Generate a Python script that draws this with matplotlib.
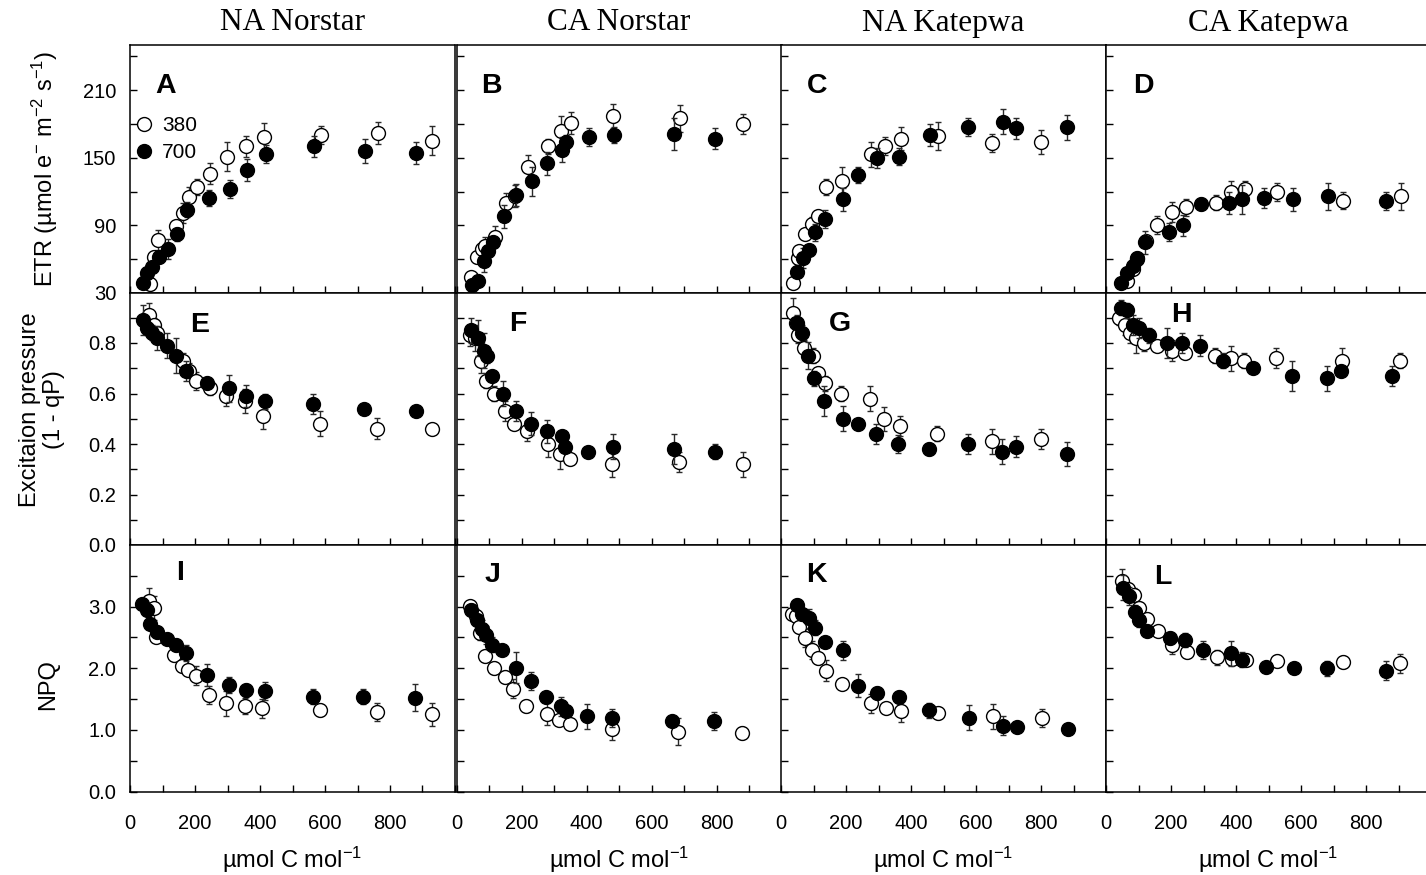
import matplotlib
matplotlib.use("Agg")
import matplotlib.pyplot as plt
from matplotlib.ticker import FixedLocator, FuncFormatter
from matplotlib.lines import Line2D

plt.rcParams['font.family'] = ['Liberation Sans', 'DejaVu Sans']
plt.rcParams['mathtext.fontset'] = 'custom'
plt.rcParams['mathtext.rm'] = 'Liberation Sans'
plt.rcParams['mathtext.default'] = 'regular'

# ---------------- data: x = µmol C mol-1, y = mean, e = error ----------------
# ETR
a_x380 = [62, 74, 87, 140, 162, 182, 207, 247, 299, 357, 412, 587, 762, 930]
a_y380 = [38, 62, 77, 89, 101, 115, 124, 136, 151, 160, 168, 170, 172, 165]
a_e380 = [3, 5, 9, 4, 9, 9, 7, 9.5, 13, 9, 13, 8, 10, 13]
a_x700 = [41, 52, 67, 88, 118, 144, 174, 242, 308, 359, 417, 565, 722, 881]
a_y700 = [39, 48, 53, 62, 69, 82, 104, 114, 122, 139, 153, 160, 156, 154]
a_e700 = [3, 3, 4, 5, 9, 6, 7, 7, 8, 10, 8, 9.5, 11, 10]

b_x380 = [45, 62, 78, 89, 117, 151, 180, 219, 282, 320, 351, 481, 688, 882]
b_y380 = [44, 62, 69, 72, 80, 110, 116, 142, 160, 174, 181, 187, 185, 180]
b_e380 = [4, 5, 6, 8, 9.5, 9, 10, 10, 7, 13, 10, 11, 12, 9]
b_x700 = [48, 66, 84, 96, 112, 145, 184, 233, 278, 324, 338, 407, 484, 669, 796]
b_y700 = [37, 41, 58, 67, 75, 98, 117, 129, 145, 157, 164, 168, 170, 171, 167]
b_e700 = [3, 3, 9, 4, 5, 10, 10, 13, 10, 11, 6, 8, 7, 14, 9.5]

c_x380 = [38, 51, 56, 74, 94, 115, 138, 187, 276, 320, 369, 484, 650, 800]
c_y380 = [39, 61, 67, 82, 91, 98, 124, 129, 153, 160, 167, 169, 163, 164]
c_e380 = [4, 6, 5, 4, 6, 4, 7.5, 13, 11, 8, 10, 12.5, 8, 10.5]
c_x700 = [49, 67, 87, 105, 135, 192, 238, 294, 363, 458, 576, 683, 722, 881]
c_y700 = [49, 61, 68, 84, 96, 113, 135, 150, 151, 170, 177, 182, 176, 177]
c_e700 = [5, 9, 4, 7.5, 8, 10, 7, 9, 7.5, 10, 8, 11, 9.5, 11]

d_x380 = [64, 82, 96, 122, 158, 202, 246, 338, 385, 428, 525, 730, 908]
d_y380 = [41, 51, 60, 76, 90, 102, 106, 110, 120, 122, 120, 112, 116]
d_e380 = [3, 4, 4, 5, 8, 9, 7.5, 6.5, 9, 7.5, 8, 7.5, 12]
d_x700 = [45, 66, 82, 94, 120, 195, 236, 292, 379, 418, 487, 576, 682, 861]
d_y700 = [39, 48, 54, 61, 75, 84, 90, 109, 110, 113, 114, 113, 116, 112]
d_e700 = [4, 3, 4, 5, 10, 8, 9.5, 5, 10, 12.5, 9, 10, 12, 8]

# Excitation pressure (1 - qP)
e_x380 = [58, 74, 84, 162, 182, 203, 246, 295, 355, 410, 585, 759, 929]
e_y380 = [0.91, 0.87, 0.84, 0.73, 0.69, 0.65, 0.62, 0.59, 0.57, 0.51, 0.48, 0.46, 0.46]
e_e380 = [0.05, 0.03, 0.03, 0.03, 0.03, 0.037, 0.025, 0.04, 0.046, 0.049, 0.05, 0.042, 0.01]
e_x700 = [39, 51, 67, 84, 113, 142, 172, 238, 305, 356, 416, 564, 721, 879]
e_y700 = [0.89, 0.86, 0.84, 0.82, 0.79, 0.75, 0.69, 0.64, 0.62, 0.59, 0.57, 0.56, 0.54, 0.53]
e_e700 = [0.06, 0.03, 0.03, 0.046, 0.049, 0.07, 0.04, 0.02, 0.053, 0.044, 0.03, 0.04, 0.02, 0.02]

f_x380 = [42, 58, 76, 91, 114, 148, 176, 218, 281, 317, 350, 479, 686, 881]
f_y380 = [0.83, 0.82, 0.73, 0.65, 0.60, 0.53, 0.48, 0.45, 0.40, 0.36, 0.34, 0.32, 0.33, 0.32]
f_e380 = [0.04, 0.05, 0.05, 0.03, 0.03, 0.04, 0.02, 0.04, 0.05, 0.06, 0.02, 0.05, 0.04, 0.05]
f_x700 = [45, 66, 84, 94, 110, 143, 182, 230, 278, 324, 335, 404, 483, 668, 796]
f_y700 = [0.85, 0.82, 0.77, 0.75, 0.67, 0.60, 0.53, 0.48, 0.45, 0.43, 0.39, 0.37, 0.39, 0.38, 0.37]
f_e700 = [0.05, 0.07, 0.07, 0.03, 0.02, 0.05, 0.04, 0.045, 0.045, 0.02, 0.02, 0.02, 0.05, 0.06, 0.03]

g_x380 = [38, 45, 53, 72, 97, 115, 135, 185, 274, 318, 366, 481, 648, 799]
g_y380 = [0.92, 0.88, 0.83, 0.78, 0.75, 0.68, 0.64, 0.60, 0.58, 0.50, 0.47, 0.44, 0.41, 0.42]
g_e380 = [0.057, 0.03, 0.03, 0.03, 0.03, 0.02, 0.03, 0.03, 0.05, 0.047, 0.04, 0.03, 0.049, 0.038]
g_x700 = [48, 64, 84, 103, 133, 192, 236, 291, 361, 455, 575, 681, 723, 880]
g_y700 = [0.88, 0.84, 0.75, 0.66, 0.57, 0.50, 0.48, 0.44, 0.40, 0.38, 0.40, 0.37, 0.39, 0.36]
g_e700 = [0.03, 0.03, 0.053, 0.03, 0.06, 0.05, 0.02, 0.04, 0.035, 0.025, 0.04, 0.049, 0.04, 0.046]

h_x380 = [40, 58, 74, 92, 118, 158, 202, 243, 335, 384, 426, 522, 727, 905]
h_y380 = [0.90, 0.87, 0.84, 0.82, 0.80, 0.79, 0.77, 0.76, 0.75, 0.74, 0.73, 0.74, 0.73, 0.73]
h_e380 = [0.03, 0.04, 0.04, 0.06, 0.03, 0.02, 0.04, 0.02, 0.03, 0.05, 0.03, 0.04, 0.05, 0.03]
h_x700 = [45, 64, 84, 102, 132, 189, 233, 289, 359, 453, 573, 679, 722, 879]
h_y700 = [0.94, 0.93, 0.87, 0.86, 0.83, 0.80, 0.80, 0.79, 0.73, 0.70, 0.67, 0.66, 0.69, 0.67]
h_e700 = [0.03, 0.03, 0.04, 0.04, 0.03, 0.06, 0.04, 0.04, 0.03, 0.02, 0.06, 0.05, 0.02, 0.04]

# NPQ
i_x380 = [58, 74, 80, 135, 159, 178, 202, 244, 295, 354, 405, 585, 759, 930]
i_y380 = [3.09, 2.98, 2.50, 2.22, 2.04, 1.97, 1.88, 1.57, 1.43, 1.38, 1.35, 1.32, 1.29, 1.25]
i_e380 = [0.22, 0.2, 0.08, 0.1, 0.1, 0.08, 0.15, 0.15, 0.2, 0.13, 0.15, 0.1, 0.15, 0.18]
i_x700 = [36, 51, 62, 84, 113, 141, 172, 238, 305, 357, 416, 564, 718, 878]
i_y700 = [3.04, 2.95, 2.72, 2.59, 2.48, 2.38, 2.24, 1.89, 1.73, 1.64, 1.63, 1.54, 1.54, 1.52]
i_e700 = [0.05, 0.05, 0.05, 0.1, 0.06, 0.1, 0.13, 0.18, 0.13, 0.1, 0.15, 0.12, 0.12, 0.22]

j_x380 = [42, 61, 73, 89, 115, 148, 173, 214, 278, 314, 348, 478, 683, 878]
j_y380 = [3.01, 2.84, 2.58, 2.20, 2.00, 1.86, 1.67, 1.39, 1.26, 1.16, 1.10, 1.02, 0.97, 0.95]
j_e380 = [0.08, 0.12, 0.12, 0.1, 0.1, 0.1, 0.15, 0.1, 0.18, 0.08, 0.08, 0.18, 0.22, 0.1]
j_x700 = [45, 63, 78, 91, 110, 141, 182, 230, 274, 322, 337, 401, 479, 663, 791]
j_y700 = [2.95, 2.78, 2.63, 2.54, 2.38, 2.29, 2.01, 1.79, 1.54, 1.38, 1.30, 1.22, 1.19, 1.15, 1.14]
j_e700 = [0.1, 0.1, 0.15, 0.15, 0.12, 0.06, 0.25, 0.15, 0.08, 0.15, 0.06, 0.2, 0.15, 0.08, 0.15]

k_x380 = [35, 45, 56, 74, 96, 115, 137, 187, 276, 322, 369, 484, 653, 802]
k_y380 = [2.88, 2.85, 2.67, 2.49, 2.30, 2.17, 1.96, 1.75, 1.43, 1.36, 1.30, 1.27, 1.22, 1.19]
k_e380 = [0.05, 0.05, 0.1, 0.15, 0.15, 0.1, 0.17, 0.07, 0.15, 0.05, 0.18, 0.1, 0.2, 0.15]
k_x700 = [48, 66, 87, 105, 135, 192, 238, 295, 363, 456, 579, 684, 727, 884]
k_y700 = [3.03, 2.88, 2.81, 2.66, 2.43, 2.29, 1.72, 1.60, 1.53, 1.32, 1.20, 1.07, 1.04, 1.02]
k_e700 = [0.1, 0.1, 0.15, 0.12, 0.08, 0.15, 0.18, 0.1, 0.1, 0.12, 0.2, 0.15, 0.08, 0.08]

l_x380 = [48, 69, 87, 100, 125, 161, 204, 248, 341, 387, 430, 525, 730, 905]
l_y380 = [3.41, 3.28, 3.19, 2.98, 2.80, 2.61, 2.38, 2.26, 2.18, 2.15, 2.13, 2.12, 2.10, 2.08]
l_e380 = [0.2, 0.1, 0.12, 0.1, 0.1, 0.08, 0.15, 0.1, 0.12, 0.1, 0.1, 0.1, 0.1, 0.15]
l_x700 = [51, 72, 89, 102, 127, 197, 243, 297, 384, 419, 491, 577, 681, 861]
l_y700 = [3.31, 3.17, 2.92, 2.79, 2.60, 2.49, 2.46, 2.30, 2.24, 2.14, 2.02, 2.00, 2.00, 1.96]
l_e700 = [0.2, 0.15, 0.1, 0.12, 0.05, 0.1, 0.12, 0.15, 0.2, 0.12, 0.08, 0.08, 0.12, 0.15]

column_titles = ["NA Norstar", "CA Norstar", "NA Katepwa", "CA Katepwa"]
panel_letters = ["A", "B", "C", "D", "E", "F", "G", "H", "I", "J", "K", "L"]
series_labels = ["380", "700"]
x_label = "µmol C mol$^{-1}$"
y_labels = ["ETR (µmol e$^{-}$ m$^{-2}$ s$^{-1}$)",
            "Excitaion pressure\n(1 - qP)",
            "NPQ"]

panels = [
    [(a_x380, a_y380, a_e380, a_x700, a_y700, a_e700),
     (b_x380, b_y380, b_e380, b_x700, b_y700, b_e700),
     (c_x380, c_y380, c_e380, c_x700, c_y700, c_e700),
     (d_x380, d_y380, d_e380, d_x700, d_y700, d_e700)],
    [(e_x380, e_y380, e_e380, e_x700, e_y700, e_e700),
     (f_x380, f_y380, f_e380, f_x700, f_y700, f_e700),
     (g_x380, g_y380, g_e380, g_x700, g_y700, g_e700),
     (h_x380, h_y380, h_e380, h_x700, h_y700, h_e700)],
    [(i_x380, i_y380, i_e380, i_x700, i_y700, i_e700),
     (j_x380, j_y380, j_e380, j_x700, j_y700, j_e700),
     (k_x380, k_y380, k_e380, k_x700, k_y700, k_e700),
     (l_x380, l_y380, l_e380, l_x700, l_y700, l_e700)],
]

# ---------------- layout ----------------
W, H = 1426, 875
fig = plt.figure(figsize=(W / 100, H / 100), dpi=100)

col_left_px = [130, 456.5, 781, 1106]
col_w_px = 325
row_px = [(45, 293), (292.5, 545), (545, 791.5)]  # (top, bottom) in pixels

ylims = [(30, 250), (0, 1.0), (0, 4.0)]
y_major = [[30, 90, 150, 210], [0, 0.2, 0.4, 0.6, 0.8], [0, 1, 2, 3]]
y_minor = [[60, 120, 180, 240], [0.1, 0.3, 0.5, 0.7, 0.9], [0.5, 1.5, 2.5, 3.5]]
y_fmt = [lambda v, p: f"{v:.0f}", lambda v, p: f"{v:.1f}", lambda v, p: f"{v:.1f}"]

letter_pos = [[(0.11, 0.835), (0.108, 0.835), (0.11, 0.835), (0.114, 0.835)],
              [(0.215, 0.87), (0.19, 0.876), (0.18, 0.876), (0.233, 0.91)],
              [(0.154, 0.887), (0.11, 0.88), (0.11, 0.88), (0.175, 0.87)]]
ylabel_pos = [(45, 0.5), (42, 0.535), (48, 0.432)]

err_color = "#2a2a2a"
ms = 10

for r in range(3):
    top, bot = row_px[r]
    for c in range(4):
        left = col_left_px[c]
        ax = fig.add_axes([left / W, 1 - bot / H, col_w_px / W, (bot - top) / H])
        x3, y3, e3, x7, y7, e7 = panels[r][c]
        ax.errorbar(x3, y3, yerr=e3, fmt='o', ms=ms, mfc='white', mec='black',
                    mew=1.0, ecolor=err_color, elinewidth=1.0, capsize=2.2,
                    capthick=1.0, zorder=3)
        ax.errorbar(x7, y7, yerr=e7, fmt='o', ms=ms, mfc='black', mec='black',
                    mew=1.0, ecolor=err_color, elinewidth=1.0, capsize=2.2,
                    capthick=1.0, zorder=4)

        ax.set_xlim(0, 1000)
        ax.set_ylim(*ylims[r])
        ax.xaxis.set_major_locator(FixedLocator([0, 200, 400, 600, 800, 1000]))
        ax.xaxis.set_minor_locator(FixedLocator([100, 300, 500, 700, 900]))
        ax.yaxis.set_major_locator(FixedLocator(y_major[r]))
        ax.yaxis.set_minor_locator(FixedLocator(y_minor[r]))
        ax.tick_params(which='both', direction='in', length=5, width=1.0,
                       top=False, right=False, labelsize=14.5)
        ax.tick_params(axis='x', pad=16)
        ax.tick_params(axis='y', pad=10)
        for sp in ax.spines.values():
            sp.set_linewidth(1.1)

        if r == 2:
            ax.xaxis.set_major_formatter(
                FuncFormatter(lambda v, p: "" if v >= 1000 else f"{v:.0f}"))
            ax.set_xlabel(x_label, fontsize=17)
            ax.xaxis.set_label_coords(0.5, -0.278)
            ax.xaxis.label.set_va('center')
        else:
            ax.tick_params(axis='x', labelbottom=False)

        if c == 0:
            ax.yaxis.set_major_formatter(FuncFormatter(y_fmt[r]))
            ax.set_ylabel(y_labels[r], fontsize=17, linespacing=1.15)
            xp, yp = ylabel_pos[r]
            ax.yaxis.set_label_coords((xp - left) / col_w_px, yp)
            ax.yaxis.label.set_va('center')
            ax.yaxis.label.set_ha('center')
        else:
            ax.tick_params(axis='y', labelleft=False)

        lx, ly = letter_pos[r][c]
        ax.text(lx, ly, panel_letters[r * 4 + c], transform=ax.transAxes,
                fontsize=20.5, fontweight='bold', ha='center', va='center')

        if r == 0 and c == 0:
            handles = [Line2D([], [], ls='none', marker='o', ms=ms, mfc='white', mec='black', mew=1.0),
                       Line2D([], [], ls='none', marker='o', ms=ms, mfc='black', mec='black', mew=1.0)]
            ax.legend(handles, series_labels, loc='upper left',
                      bbox_to_anchor=(0.0, 0.73), frameon=False, fontsize=15,
                      handlelength=0.9, handletextpad=0.45, labelspacing=0.4,
                      borderaxespad=0.0, borderpad=0.2)

        if r == 0:
            fig.text((left + col_w_px / 2) / W, 1 - 23 / H, column_titles[c],
                     family=['Liberation Serif', 'DejaVu Serif'], fontsize=22.5,
                     ha='center', va='center')

fig.savefig("out.png", dpi=100)
